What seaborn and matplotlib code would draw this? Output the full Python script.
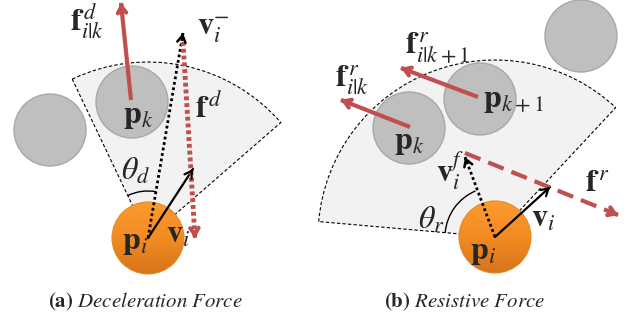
import numpy as np
import matplotlib
matplotlib.use('Agg')
import matplotlib.pyplot as plt
import seaborn as sns
from matplotlib.patches import Circle, Wedge, Arc

sns.set_style("white")
plt.rcParams['mathtext.fontset'] = 'stix'
plt.rcParams['font.family'] = ['Liberation Serif', 'DejaVu Serif']

# ---- diagram data (pixel coordinates, y grows downward) ----
agent_centers = [(148, 238), (495, 237)]
agent_radius = 36
neighbour_centers = [(132, 102), (50, 130), (409, 128), (480, 99), (581, 36)]
neighbour_radius = 36

# sector: apex, radius, visual angles (deg, counter-clockwise, y up)
sector_apex = [(148, 238), (495, 237)]
sector_radius = [176, 177]
sector_angles = [(41, 115.5), (47, 175)]
theta_arc_radius = [47, 50]
theta_arc_angles = [(80, 115.5), (113, 175)]

red_solid = [((131, 100), (121, 3)), ((410, 127), (341, 100)), ((478, 97), (401, 68))]
black_solid = [((148, 238), (193, 169)), ((495, 237), (550, 187))]
black_dotted = [((148, 238), (183, 33)), ((495, 237), (465, 157))]
red_dotted = [((183, 42), (195, 238))]
red_dashed = [((465, 153), (618, 215))]

labels = [
    (70, 31, r"$\mathbf{f}^{\,d}_{i\mathrm{|}k}$"),
    (197, 35, r"$\mathbf{v}^{-}_{i}$"),
    (195, 118, r"$\mathbf{f}^{\,d}$"),
    (123, 123, r"$\mathbf{p}_{k}$"),
    (121, 180, r"$\theta_{d}$"),
    (122, 249, r"$\mathbf{p}_{i}$"),
    (166, 243, r"$\mathbf{v}_{i}$"),
    (335, 86, r"$\mathbf{f}^{\,r}_{i\mathrm{|}k}$"),
    (405, 54, r"$\mathbf{f}^{\,r}_{i\mathrm{|}k+1}$"),
    (483, 107, r"$\mathbf{p}_{k+1}$"),
    (394, 149, r"$\mathbf{p}_{k}$"),
    (436, 181, r"$\mathbf{v}^{f}_{i}$"),
    (585, 192, r"$\mathbf{f}^{\,r}$"),
    (418, 229, r"$\theta_{r}$"),
    (531, 227, r"$\mathbf{v}_{i}$"),
    (470, 259, r"$\mathbf{p}_{i}$"),
]
captions = [(145, 302, r"$\mathbf{(a)}$ $\mathit{Deceleration\ Force}$"),
            (465, 302, r"$\mathbf{(b)}$ $\mathit{Resistive\ Force}$")]

RED = "#c0504d"

fig = plt.figure(figsize=(6.26, 3.22), dpi=100)
ax = fig.add_axes([0, 0, 1, 1])
ax.axis('off')

# sectors and angle arcs (angles negated because y axis is inverted)
for apex, r, (a1, a2) in zip(sector_apex, sector_radius, sector_angles):
    ax.add_patch(Wedge(apex, r, -a2, -a1, facecolor="#f2f2f2", edgecolor="black",
                       lw=0.8, linestyle=(0, (3, 2)), zorder=1))
for apex, r, (a1, a2) in zip(sector_apex, theta_arc_radius, theta_arc_angles):
    ax.add_patch(Arc(apex, 2 * r, 2 * r, theta1=-a2, theta2=-a1, color="black", lw=1, zorder=2))

# grey neighbours
for c in neighbour_centers:
    ax.add_patch(Circle(c, neighbour_radius, facecolor="#bfbfbf", edgecolor="#a8a8a8", lw=1, zorder=3))

# orange agents with vertical gradient
grad = np.linspace(0, 1, 100).reshape(-1, 1)
cmap = matplotlib.colors.LinearSegmentedColormap.from_list("og", ["#fb9b30", "#f38b22", "#d8741a"])
for c in agent_centers:
    circ = Circle(c, agent_radius, facecolor="none", edgecolor="#e08a2a", lw=0.8, zorder=4)
    ax.add_patch(circ)
    im = ax.imshow(grad, cmap=cmap, extent=(c[0] - agent_radius, c[0] + agent_radius,
                                            c[1] + agent_radius, c[1] - agent_radius),
                   origin='upper', zorder=3.5, aspect='auto')
    im.set_clip_path(circ)
ax.set_xlim(0, 626)
ax.set_ylim(322, 0)
ax.set_aspect('equal')


def head(p0, p1, color, lw, hl, hw):
    p0 = np.array(p0, float)
    p1 = np.array(p1, float)
    d = (p1 - p0) / np.linalg.norm(p1 - p0)
    ax.annotate("", xy=p1, xytext=p1 - d * 2,
                arrowprops=dict(arrowstyle=f"->,head_length={hl},head_width={hw}",
                                color=color, lw=lw, shrinkA=0, shrinkB=0), zorder=6)


for p0, p1 in red_solid:
    ax.plot([p0[0], p1[0]], [p0[1], p1[1]], color=RED, lw=3, solid_capstyle='butt', zorder=5)
    head(p0, p1, RED, 3, 0.45, 0.3)
for p0, p1 in black_solid:
    ax.plot([p0[0], p1[0]], [p0[1], p1[1]], color="black", lw=1.6, zorder=5)
    head(p0, p1, "black", 1.6, 0.5, 0.3)
for p0, p1 in black_dotted:
    ax.plot([p0[0], p1[0]], [p0[1], p1[1]], color="black", lw=2, linestyle=(0, (1, 1)), zorder=5)
    head(p0, p1, "black", 1.8, 0.5, 0.3)
for p0, p1 in red_dotted:
    ax.plot([p0[0], p1[0]], [p0[1], p1[1]], color=RED, lw=3.5, linestyle=(0, (0.8, 0.6)), zorder=5)
    head(p0, p1, RED, 3, 0.45, 0.3)
for p0, p1 in red_dashed:
    ax.plot([p0[0], p1[0]], [p0[1], p1[1]], color=RED, lw=3, linestyle=(0, (4, 2)), zorder=5)
    head(p0, p1, RED, 3, 0.45, 0.3)

for x, y, s in labels:
    ax.text(x, y, s, fontsize=23, ha='left', va='baseline', zorder=7)
for x, y, s in captions:
    ax.text(x, y, s, fontsize=15, ha='center', va='center', zorder=7)

fig.savefig("out.png", dpi=100)
